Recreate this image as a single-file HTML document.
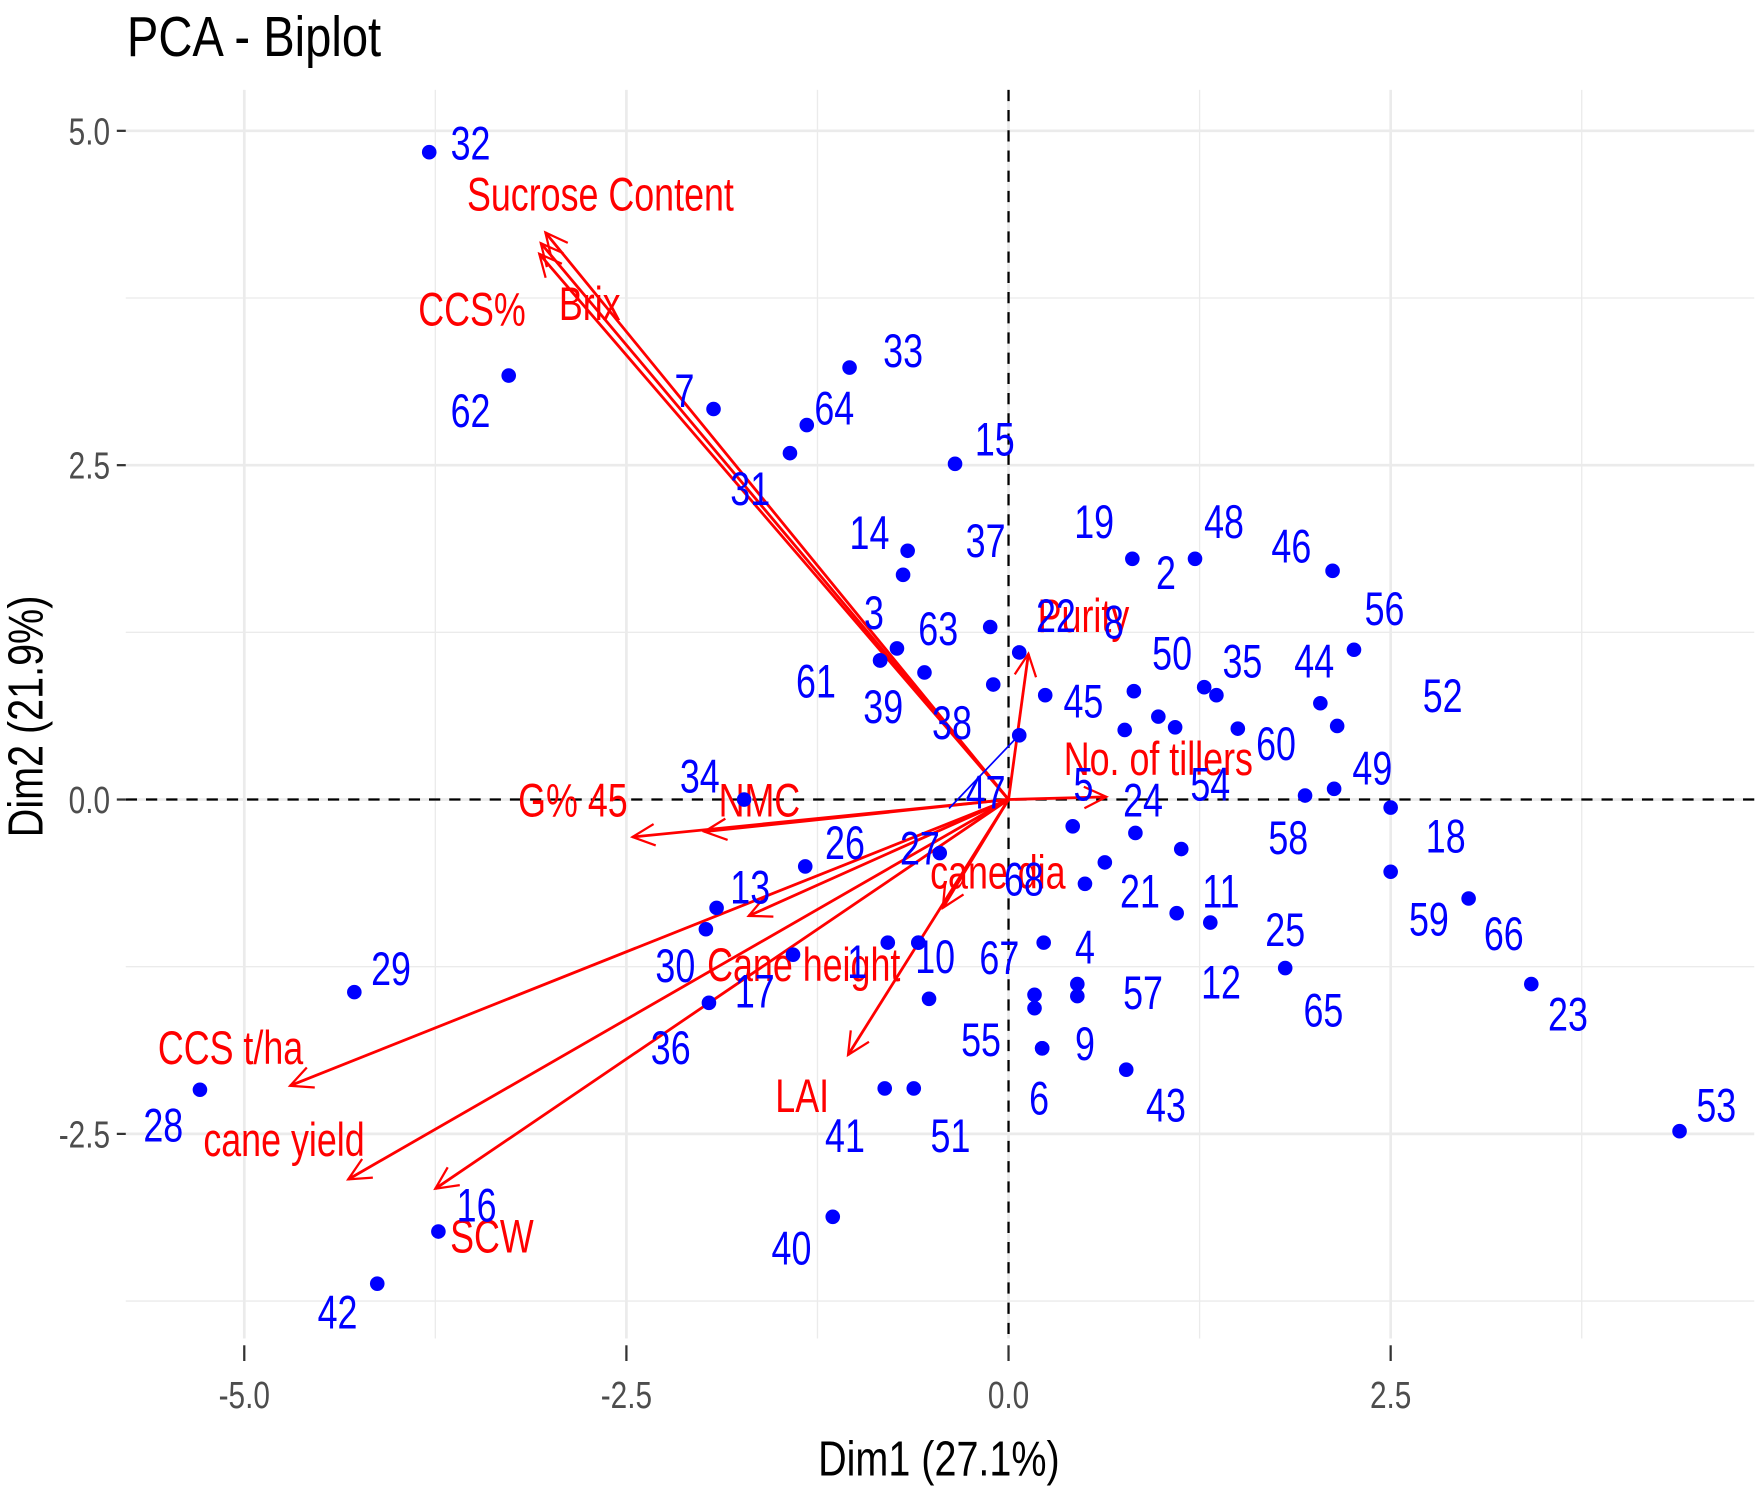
<!DOCTYPE html>
<html><head><meta charset="utf-8"><style>
html,body{margin:0;padding:0;background:#fff;}
svg{display:block;}
text{font-family:"Liberation Sans",sans-serif;}
</style></head>
<body>
<svg id="chart" width="1761" height="1498" viewBox="0 0 1568 1334" preserveAspectRatio="none" xmlns="http://www.w3.org/2000/svg">
<rect x="0" y="0" width="1568" height="1334" fill="#fff"/>
<g id="grid"></g>
<g id="axes"></g>
<g id="vectors"></g>
<g id="points"></g>
<text x="113" y="50" font-size="50" fill="#000" transform="translate(113,0) scale(0.84,1) translate(-113,0)">PCA - Biplot</text>
<text x="836" y="1314" font-size="44" fill="#000" text-anchor="middle" transform="translate(836,0) scale(0.8,1) translate(-836,0)">Dim1 (27.1%)</text>
<text x="0" y="0" font-size="44" fill="#000" text-anchor="middle" transform="translate(38,638) rotate(-90) scale(0.8,1)">Dim2 (21.9%)</text>
</svg>
<script>
// individual ids, coordinates (Dim1, Dim2) and label positions (data units)
const ids  = ["32","62","7","64","33","31","15","14","3b","37","3","61","63","38","22","45","19","48","46","2","50","35","8","56","44","52","60","54","5b","49","58","18","47","24","5","68","21","11","25","12","65","59","66","23","53","4","57","57b","67","6b","9","6","43","55","10","1","1b","41","51","40","26","27","13","30","17","36","34","29","28","16","42","39"];
const pcX  = [-3.79,-3.27,-1.93,-1.32,-1.04,-1.43,-0.35,-0.66,-0.69,-0.12,-0.84,-0.73,-0.55,-0.10,0.07,0.24,0.81,1.22,2.12,1.28,1.36,1.50,0.82,2.26,2.04,2.15,1.09,0.98,0.76,2.13,1.94,2.50,0.07,0.83,0.42,0.50,0.63,1.13,1.32,1.10,1.81,2.50,3.01,3.42,4.39,0.23,0.45,0.45,0.17,0.17,0.22,0.22,0.77,-0.52,-0.59,-0.79,-0.59,-0.81,-0.62,-1.15,-1.33,-0.45,-1.91,-1.98,-1.41,-1.96,-1.73,-4.28,-5.29,-3.73,-4.13,-0.84];
const pcY  = [4.84,3.17,2.92,2.80,3.23,2.59,2.51,1.86,1.68,1.29,1.04,1.13,0.95,0.86,1.10,0.78,1.80,1.80,1.71,0.84,0.78,0.53,0.81,1.12,0.72,0.55,0.54,0.62,0.52,0.08,0.03,-0.06,0.48,-0.25,-0.20,-0.63,-0.47,-0.37,-0.92,-0.85,-1.26,-0.54,-0.74,-1.38,-2.48,-1.07,-1.38,-1.47,-1.46,-1.56,-1.86,-1.86,-2.02,-1.49,-1.07,-1.07,-1.07,-2.16,-2.16,-3.12,-0.50,-0.40,-0.81,-0.97,-1.16,-1.52,0.00,-1.44,-2.17,-3.23,-3.62,1.04];
const labX = [-3.52,-3.52,-2.12,-1.14,-0.69,-1.69,-0.09,-0.91,null,-0.15,-0.88,-1.26,-0.46,-0.37,0.31,0.49,0.56,1.41,1.85,1.03,1.07,1.53,0.69,2.46,2.00,2.84,1.75,1.32,null,2.38,1.83,2.86,-0.15,0.88,0.49,0.10,0.86,1.39,1.81,1.39,2.06,2.75,3.24,3.66,4.63,0.50,0.88,null,-0.06,null,0.50,0.20,1.03,-0.18,-0.48,-0.99,null,-1.07,-0.38,-1.42,-1.07,-0.58,-1.69,-2.18,-1.66,-2.21,-2.02,-4.04,-5.53,-3.48,-4.39,-0.82];
const labY = [4.91,2.91,3.06,2.93,3.36,2.33,2.70,2.00,null,1.94,1.40,0.89,1.28,0.58,1.38,0.74,2.08,2.08,1.90,1.70,1.10,1.04,1.33,1.43,1.04,0.78,0.42,0.12,null,0.24,-0.28,-0.27,0.06,0.00,0.12,-0.59,-0.68,-0.68,-0.97,-1.36,-1.57,-0.89,-1.00,-1.60,-2.28,-1.10,-1.44,null,-1.18,null,-1.82,-2.23,-2.28,-1.79,-1.17,-1.21,null,-2.51,-2.51,-3.35,-0.32,-0.36,-0.65,-1.24,-1.43,-1.85,0.18,-1.26,-2.43,-3.03,-3.83,0.70];
// variable arrows (Dim1, Dim2 of arrow tips) and label positions
const vars  = ["Sucrose Content","Brix","CCS%","Purity","No. of tillers","G% 45","NMC","cane dia","LAI","Cane height","CCS t/ha","cane yield","SCW"];
const varX  = [-3.03,-3.06,-3.07,0.13,0.64,-2.46,-1.99,-0.43,-1.05,-1.70,-4.70,-4.32,-3.75];
const varY  = [4.24,4.16,4.08,1.09,0.02,-0.28,-0.24,-0.81,-1.91,-0.87,-2.14,-2.84,-2.91];
const varLX = [-2.67,-2.74,-3.51,0.49,0.98,-2.85,-1.63,-0.07,-1.35,-1.34,-5.09,-4.74,-3.38];
const varLY = [4.53,3.71,3.67,1.38,0.31,0.00,0.00,-0.54,-2.21,-1.23,-1.85,-2.54,-3.26];
const xTicks = [-5.0,-2.5,0.0,2.5];
const yTicks = [5.0,2.5,0.0,-2.5];
const xTickLabels = ["-5.0","-2.5","0.0","2.5"];
const yTickLabels = ["5.0","2.5","0.0","-2.5"];

const NS="http://www.w3.org/2000/svg";
const L=112,R=1562,T=80,B=1192;
function sx(v){return 898+v*136.1;}
function sy(v){return 712-v*119.1;}
function mk(tag,attrs,parent){const e=document.createElementNS(NS,tag);for(const k in attrs)e.setAttribute(k,attrs[k]);parent.appendChild(e);return e;}
const grid=document.getElementById('grid'),axes=document.getElementById('axes'),vg=document.getElementById('vectors'),pg=document.getElementById('points');

for(let v=-6.25;v<=6;v+=1.25){const major=Math.abs((v/2.5)-Math.round(v/2.5))<1e-6;
 const x=sx(v);if(x>L&&x<R){const ln=mk('line',{x1:x,x2:x,y1:T,y2:B,stroke:'#ebebeb','stroke-width':major?2.4:1.2},grid);
 
 }
 const y=sy(v);if(y>T&&y<B){const ln=mk('line',{x1:L,x2:R,y1:y,y2:y,stroke:'#ebebeb','stroke-width':major?2.4:1.2},grid);
 
 }
}
const zx=mk('line',{x1:sx(0),x2:sx(0),y1:T,y2:B,stroke:'#000','stroke-width':2,'stroke-dasharray':'10,8'},axes);


const zy=mk('line',{x1:L,x2:R,y1:sy(0),y2:sy(0),stroke:'#000','stroke-width':2,'stroke-dasharray':'10,8'},axes);



xTicks.forEach((v,i)=>{const x=sx(v);
 const tk=mk('line',{x1:x,x2:x,y1:1198,y2:1212,stroke:'#333','stroke-width':2},axes);
 
 
 const t=mk('text',{x:0,y:0,'font-size':34,fill:'#4d4d4d','text-anchor':'middle',transform:`translate(${x},1254) scale(0.78,1)`},axes);
 t.textContent=xTickLabels[i];
 
 });
yTicks.forEach((v,i)=>{const y=sy(v);
 const tk=mk('line',{x1:104,x2:112,y1:y,y2:y,stroke:'#333','stroke-width':2},axes);
 
 
 const t=mk('text',{x:0,y:0,'font-size':34,fill:'#4d4d4d','text-anchor':'end',transform:`translate(98,${y+12}) scale(0.78,1)`},axes);
 t.textContent=yTickLabels[i];
 
 });

vars.forEach((n,i)=>{const x0=sx(0),y0=sy(0),x1=sx(varX[i]),y1=sy(varY[i]);
 const g=mk('g',{},vg);
 
 
 mk('line',{x1:x0,y1:y0,x2:x1,y2:y1,stroke:'#ff0000','stroke-width':2.5},g);
 const a=Math.atan2(y1-y0,x1-x0),h=22,w=0.45;
 mk('polyline',{points:`${x1-h*Math.cos(a-w)},${y1-h*Math.sin(a-w)} ${x1},${y1} ${x1-h*Math.cos(a+w)},${y1-h*Math.sin(a+w)}`,fill:'none',stroke:'#ff0000','stroke-width':2},g);
 const t=mk('text',{x:0,y:0,'font-size':42,fill:'#ff0000','text-anchor':'middle',transform:`translate(${sx(varLX[i])},${sy(varLY[i])+15}) scale(0.76,1)`},g);
 t.textContent=n;
 
 
});

ids.forEach((id,i)=>{const x=sx(pcX[i]),y=sy(pcY[i]);
 const c=mk('circle',{cx:x,cy:y,r:6.5,fill:'#0000ff'},pg);
 
 
 if(labX[i]===null)return;
 const t=mk('text',{x:0,y:0,'font-size':42,fill:'#0000ff','text-anchor':'middle',transform:`translate(${sx(labX[i])},${sy(labY[i])+15}) scale(0.76,1)`},pg);
 t.textContent=id;
 
 
});
const bs=mk('line',{x1:845,y1:720,x2:907,y2:655,stroke:'#0000ff','stroke-width':1.5},pg);


</script>
</body></html>
